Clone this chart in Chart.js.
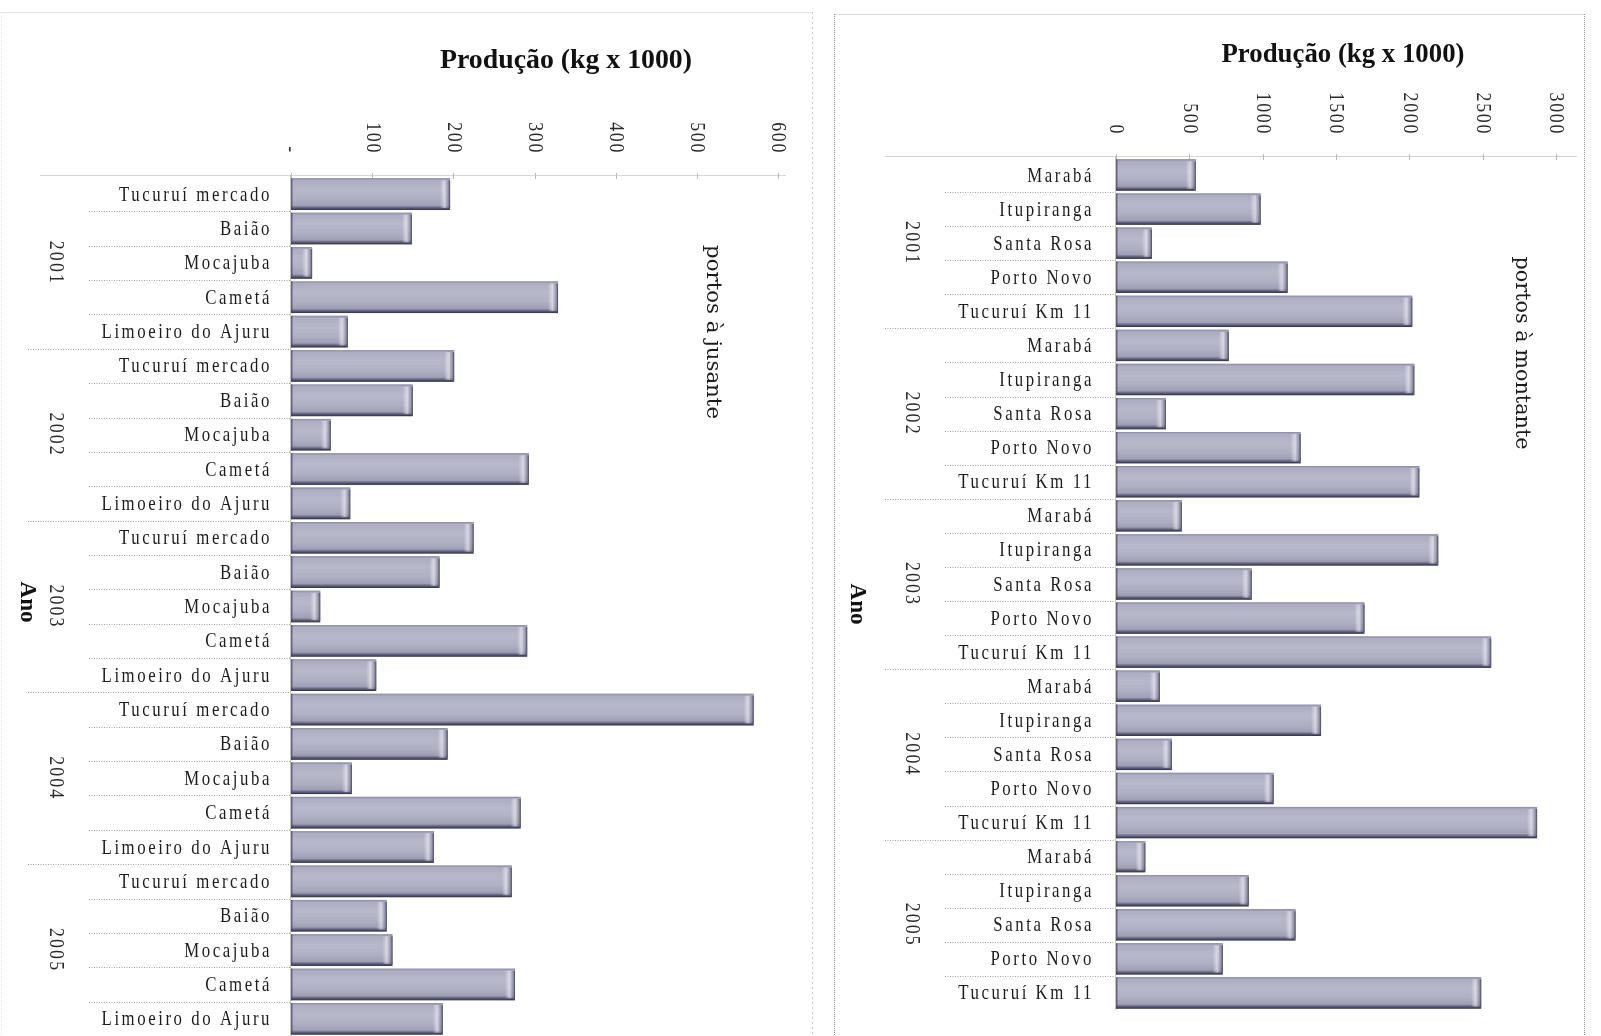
<!DOCTYPE html>
<html>
<head>
<meta charset="utf-8">
<script src="https://cdn.jsdelivr.net/npm/chart.js@4.4.1/dist/chart.umd.min.js"></script>
<style>
  html, body { margin: 0; padding: 0; background: #ffffff; }
  #wrap { position: relative; width: 1601px; height: 1036px; overflow: hidden; background: #ffffff; }
  #wrap canvas { position: absolute; left: 0; top: 0; }
</style>
</head>
<body>
<div id="wrap">
  <canvas id="chartJusante" width="1601" height="1036"></canvas>
  <canvas id="chartMontante" width="1601" height="1036"></canvas>
</div>
<script>
// ---- data -------------------------------------------------------------
const years = ['2001', '2002', '2003', '2004', '2005'];

const portosJusante = ['Tucuruí mercado', 'Baião', 'Mocajuba', 'Cametá', 'Limoeiro do Ajuru'];
const portosMontante = ['Marabá', 'Itupiranga', 'Santa Rosa', 'Porto Novo', 'Tucuruí Km 11'];

// Produção (kg x 1000) por porto, em cada ano
const jusante2001 = [196, 149, 26, 329, 70];
const jusante2002 = [201, 150, 49, 293, 73];
const jusante2003 = [225, 183, 36, 291, 105];
const jusante2004 = [570, 193, 75, 283, 176];
const jusante2005 = [272, 118, 125, 276, 187];

const montante2001 = [544, 986, 245, 1170, 2020];
const montante2002 = [769, 2034, 340, 1259, 2068];
const montante2003 = [449, 2197, 925, 1694, 2558];
const montante2004 = [299, 1398, 381, 1075, 2871];
const montante2005 = [200, 905, 1224, 728, 2490];

const ticksJusante = [0, 100, 200, 300, 400, 500, 600];
const tickLabelsJusante = ['-', '100', '200', '300', '400', '500', '600'];
const ticksMontante = [0, 500, 1000, 1500, 2000, 2500, 3000];
const tickLabelsMontante = ['0', '500', '1000', '1500', '2000', '2500', '3000'];

const axisTitle = 'Produção (kg x 1000)';
const yearTitle = 'Ano';
const seriesJusante = 'portos à jusante';
const seriesMontante = 'portos à montante';

// ---- helpers ----------------------------------------------------------
function drawText(ctx, s, x, y, o) {
  ctx.save();
  ctx.font = o.font;
  ctx.letterSpacing = (o.ls || 0) + 'px';
  let sx = o.sx || 1;
  if (o.fit) sx = o.fit / ctx.measureText(s).width;
  ctx.translate(x, y);
  if (o.rot) ctx.rotate(o.rot);
  ctx.scale(sx, 1);
  ctx.fillStyle = o.color || '#1e1e1e';
  ctx.textAlign = o.align || 'center';
  ctx.textBaseline = o.baseline || 'middle';
  ctx.fillText(s, 0, 0);
  ctx.restore();
}

function hLine(ctx, x1, x2, y, color, dash) {
  ctx.save();
  ctx.strokeStyle = color;
  ctx.lineWidth = 1;
  ctx.setLineDash(dash || []);
  ctx.beginPath();
  ctx.moveTo(x1, Math.round(y) + 0.5);
  ctx.lineTo(x2, Math.round(y) + 0.5);
  ctx.stroke();
  ctx.restore();
}

function vLine(ctx, x, y1, y2, color, dash) {
  ctx.save();
  ctx.strokeStyle = color;
  ctx.lineWidth = 1;
  ctx.setLineDash(dash || []);
  ctx.beginPath();
  ctx.moveTo(Math.round(x) + 0.5, y1);
  ctx.lineTo(Math.round(x) + 0.5, y2);
  ctx.stroke();
  ctx.restore();
}

const SERIF = '"Liberation Serif", "Times New Roman", serif';

// Bevelled shading laid over each bar drawn by Chart.js
const bevelPlugin = {
  id: 'bevel',
  afterDatasetsDraw(chart) {
    const ctx = chart.ctx;
    chart.getDatasetMeta(0).data.forEach(bar => {
      const p = bar.getProps(['x', 'y', 'base', 'height'], true);
      const left = Math.min(p.base, p.x), right = Math.max(p.base, p.x);
      const top = p.y - p.height / 2, bottom = p.y + p.height / 2;
      const w = right - left, h = bottom - top;
      if (w <= 0) return;
      ctx.save();
      const g = ctx.createLinearGradient(0, top, 0, bottom);
      g.addColorStop(0.00, '#8a8aa2');
      g.addColorStop(0.07, '#adadc3');
      g.addColorStop(0.35, '#b8b8ca');
      g.addColorStop(0.65, '#b0b0c4');
      g.addColorStop(0.86, '#9e9eb5');
      g.addColorStop(0.93, '#60607a');
      g.addColorStop(1.00, '#2f2f47');
      ctx.fillStyle = g;
      ctx.fillRect(left, top, w, h);
      // rounded light/dark end at the value side
      const capW = Math.min(10, w);
      const gc = ctx.createLinearGradient(right - capW, 0, right, 0);
      gc.addColorStop(0.0, 'rgba(255,255,255,0)');
      gc.addColorStop(0.45, 'rgba(238,238,248,0.6)');
      gc.addColorStop(0.8, 'rgba(130,130,150,0.55)');
      gc.addColorStop(1.0, 'rgba(55,55,75,0.95)');
      ctx.fillStyle = gc;
      ctx.fillRect(right - capW, top + 2, capW, h - 4);
      // left edge
      ctx.fillStyle = 'rgba(70,70,95,0.7)';
      ctx.fillRect(left, top, 1.5, h);
      ctx.restore();
    });
  }
};

// Axis texts, separators and frame
const decorPlugin = {
  id: 'decor',
  beforeDatasetsDraw(chart, args, o) {
    const ctx = chart.ctx;
    const xs = chart.scales.x, ys = chart.scales.y;
    const area = chart.chartArea;

    // frame
    o.frame(ctx);

    // value axis line and tick marks
    hLine(ctx, o.axisLineFrom, o.axisLineTo, area.top - 2, '#d6d6d6');
    o.ticks.forEach(v => {
      const x = xs.getPixelForValue(v);
      vLine(ctx, x, area.top - 4, area.top + 2, '#b8b8b8');
    });
    // category axis line
    vLine(ctx, area.left - 1, area.top - 2, area.bottom, '#c4c4c4');

    // separators between categories
    const n = o.labels.length;
    for (let i = 0; i < n - 1; i++) {
      const yb = (ys.getPixelForValue(i) + ys.getPixelForValue(i + 1)) / 2;
      const groupEnd = (i + 1) % 5 === 0;
      hLine(ctx, groupEnd ? o.groupSepFrom : o.sepFrom, area.left - 1, yb, '#9a9a9a', [1, 1.5]);
    }
  },
  afterDraw(chart, args, o) {
    const ctx = chart.ctx;
    const xs = chart.scales.x, ys = chart.scales.y;

    // title
    drawText(ctx, axisTitle, o.titleX, o.titleY, {
      font: 'bold 28px ' + SERIF, baseline: 'alphabetic', fit: o.titleW, color: '#111'
    });

    // value tick labels, rotated clockwise, right-aligned at a common line
    o.ticks.forEach((v, i) => {
      drawText(ctx, o.tickLabels[i], xs.getPixelForValue(v), o.tickLabelY, {
        font: '21px ' + SERIF, rot: Math.PI / 2, align: 'right', sx: 0.85, ls: 2, color: '#2a2a2a'
      });
    });

    // port names
    o.labels.forEach((lab, i) => {
      drawText(ctx, lab.port, o.portX, ys.getPixelForValue(i) + 1, {
        font: '21px ' + SERIF, align: 'right', sx: 0.8, ls: 3.2, color: '#1c1c1c'
      });
    });

    // years
    years.forEach((yr, g) => {
      const yc = (ys.getPixelForValue(g * 5) + ys.getPixelForValue(g * 5 + 4)) / 2;
      drawText(ctx, yr, o.yearX, yc, {
        font: '21px ' + SERIF, rot: Math.PI / 2, sx: 0.85, ls: 2.5, color: '#2a2a2a'
      });
    });

    // category axis title
    drawText(ctx, yearTitle, o.anoX, o.anoY, {
      font: 'bold 23px ' + SERIF, rot: Math.PI / 2, color: '#111'
    });

    // series name
    drawText(ctx, o.series, o.seriesX, o.seriesY, {
      font: '20px "DejaVu Serif", serif', rot: Math.PI / 2, fit: o.seriesW, color: '#1c1c1c'
    });
  }
};

function buildLabels(ports) {
  const out = [];
  years.forEach(y => ports.forEach(p => out.push({ year: y, port: p })));
  return out;
}

function makeChart(id, ports, values, max, ticks, tickLabels, padding, decor) {
  const labels = buildLabels(ports);
  return new Chart(document.getElementById(id), {
    type: 'bar',
    data: {
      labels: labels.map(l => l.year + ' ' + l.port),
      datasets: [{
        data: values,
        backgroundColor: '#a6a6bd',
        borderWidth: 0,
        barPercentage: 0.92,
        categoryPercentage: 1.0
      }]
    },
    options: {
      indexAxis: 'y',
      responsive: false,
      animation: false,
      layout: { padding },
      scales: {
        x: { type: 'linear', min: 0, max, display: false },
        y: { type: 'category', display: false, offset: true }
      },
      plugins: {
        legend: { display: false },
        tooltip: { enabled: false },
        decor: Object.assign({ labels, ticks, tickLabels }, decor)
      }
    },
    plugins: [decorPlugin, bevelPlugin]
  });
}

const valuesJusante = [].concat(jusante2001, jusante2002, jusante2003, jusante2004, jusante2005);
const valuesMontante = [].concat(montante2001, montante2002, montante2003, montante2004, montante2005);

makeChart('chartJusante', portosJusante, valuesJusante, 600, ticksJusante, tickLabelsJusante,
  { left: 291, right: 823, top: 177, bottom: 0 },
  {
    titleX: 566, titleY: 68, titleW: 252,
    tickLabelY: 154,
    portX: 272, yearX: 56, anoX: 27, anoY: 602,
    sepFrom: 89, groupSepFrom: 28,
    axisLineFrom: 40, axisLineTo: 786,
    series: seriesJusante, seriesX: 712, seriesY: 332, seriesW: 174,
    frame(ctx) {
      hLine(ctx, 0, 812, 12, '#e4e4e4');
      vLine(ctx, 1, 12, 1036, '#e8e8e8', [2, 2]);
      vLine(ctx, 812, 12, 1036, '#c8c8c8', [2, 3]);
    }
  });

makeChart('chartMontante', portosMontante, valuesMontante, 3000, ticksMontante, tickLabelsMontante,
  { left: 1116, right: 45, top: 158, bottom: 26 },
  {
    titleX: 1343, titleY: 62, titleW: 243,
    tickLabelY: 135,
    portX: 1094, yearX: 912, anoX: 857, anoY: 604,
    sepFrom: 945, groupSepFrom: 885,
    axisLineFrom: 885, axisLineTo: 1577,
    series: seriesMontante, seriesX: 1521, seriesY: 353, seriesW: 193,
    frame(ctx) {
      hLine(ctx, 834, 1584, 14, '#dcdcdc');
      vLine(ctx, 834, 14, 1036, '#8c8c8c', [1, 1]);
      vLine(ctx, 1584, 14, 1036, '#8c8c8c', [1, 1]);
    }
  });
</script>
</body>
</html>
